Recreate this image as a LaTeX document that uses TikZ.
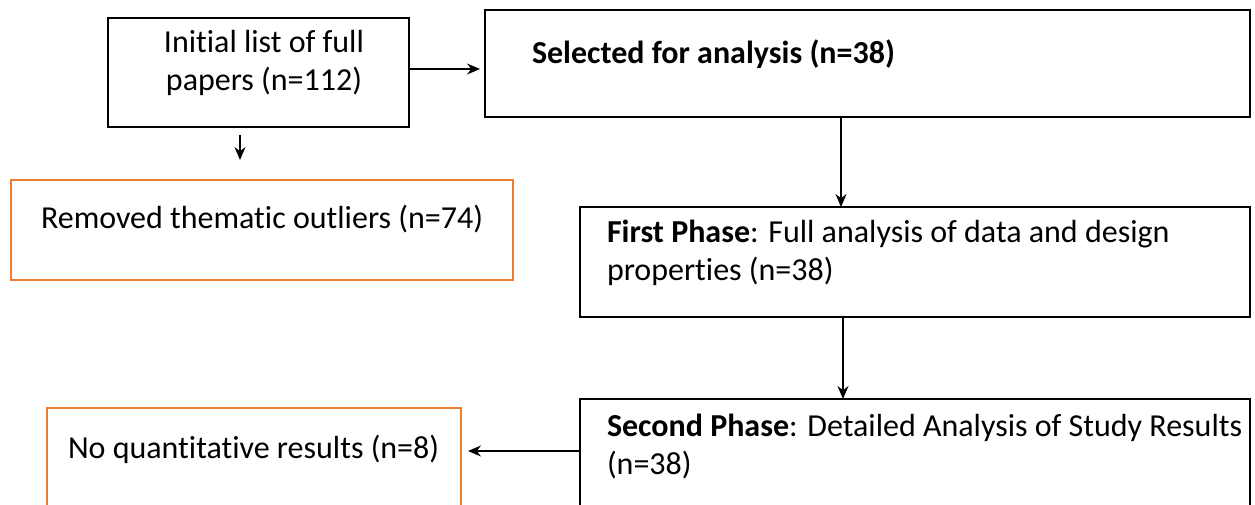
\documentclass[tikz,border=0pt]{standalone}
\usepackage{fontspec}
\setmainfont{Carlito}[Ligatures=CommonOff]
\usetikzlibrary{arrows.meta,positioning}

\definecolor{outlierorange}{HTML}{ED7D31}

\begin{document}
\begin{tikzpicture}[
  x=1pt,y=-1pt,
  every node/.style={inner sep=0pt,outer sep=0pt,font=\fontsize{32}{38}\selectfont},
  stagebox/.style={draw,line width=2.4pt},
  dropbox/.style={draw=outlierorange,line width=2pt},
  boxtext/.style={anchor=base west,align=left},
  to/.style={-{Stealth[length=13pt,width=11pt]},line width=1.2pt}]

  \useasboundingbox (0,0) rectangle (1255,505);

  % Boxes of the selection process
  \node[stagebox,minimum width=301pt,minimum height=109pt] (init) at (258.5,72.5) {};
  \node[stagebox,minimum width=765pt,minimum height=107pt] (select) at (867.5,63.5) {};
  \node[stagebox,minimum width=670pt,minimum height=110pt] (first) at (915,262) {};
  \node[stagebox,minimum width=670pt,minimum height=140pt] (second) at (915,469) {};
  \node[dropbox,minimum width=502pt,minimum height=100pt] (outliers) at (262,230) {};
  \node[dropbox,minimum width=414pt,minimum height=130pt] (noquant) at (254,473) {};

  % Texts inside the boxes (base = last line)
  \node[anchor=base,align=center] (inittext) at (264,91) {Initial list of full\\papers (n=112)};
  \node[boxtext] (selecttext) at (532,64) {\textbf{Selected for analysis (n=38)}};
  \node[boxtext] (firsttext) at (607,280) {\textbf{First Phase}: Full analysis of data and design\\properties (n=38)};
  \node[boxtext] (secondtext) at (607,474) {\textbf{Second Phase}: Detailed Analysis of Study Results\\(n=38)};
  \node[boxtext] (outlierstext) at (41,228) {Removed thematic outliers (n=74)};
  \node[boxtext] (noquanttext) at (68,458) {No quantitative results (n=8)};

  % Connectors
  \draw[to,shorten >=5pt] ([yshift=3.5pt]init.east) -- ([yshift=3.5pt]init.east -| select.west);
  \draw[to,shorten <=8pt,shorten >=20pt] ([xshift=-18.5pt]init.south) -- ([xshift=-18.5pt]init.south |- outliers.north);
  \draw[to] ([xshift=-26.5pt]select.south) -- ([xshift=-26.5pt]select.south |- first.north);
  \draw[to] ([xshift=-72pt]first.south) -- ([xshift=-72pt]first.south |- second.north);
  \draw[to,shorten >=7pt] ([yshift=18pt]second.west) -- ([yshift=18pt]second.west -| noquant.east);
\end{tikzpicture}
\end{document}
